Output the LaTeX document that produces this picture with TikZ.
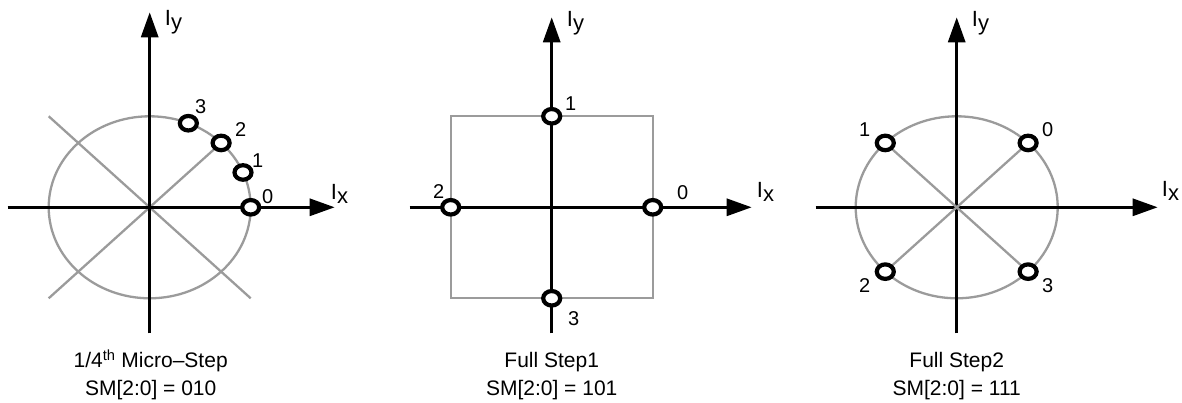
\documentclass[tikz,border=0pt]{standalone}
\usepackage{fontspec}
\setmainfont{Liberation Sans}
\usetikzlibrary{arrows.meta,shapes.geometric}
\definecolor{ink}{HTML}{000000}
\definecolor{guide}{HTML}{9B9B9B}
\tikzset{
  >={Triangle[length=25pt,width=17pt]},
  ax/.style={->,draw=ink,line width=3pt},
  gd/.style={draw=guide,line width=2.3pt},
  mk/.style={ellipse,draw=ink,fill=white,line width=4.2pt,minimum width=17pt,minimum height=14.5pt,inner sep=0pt},
  num/.style={font=\fontsize{20}{22}\selectfont,inner sep=0pt},
  axl/.style={font=\fontsize{22}{24}\selectfont,inner sep=0pt,anchor=base west},
  capt/.style={font=\fontsize{21}{27}\selectfont,inner sep=0pt,anchor=base},
}

\begin{document}
\begin{tikzpicture}[x=1pt,y=1pt]
  \useasboundingbox (0,0) rectangle (1182,403);
  % 1/4 micro-step
  \begin{scope}[shift={(149.7,195.7)}]
    \coordinate (oa) at (0,0);
    \coordinate (xla) at (-142,0); \coordinate (xra) at (185,0);
    \coordinate (yba) at (0,-126); \coordinate (yta) at (0,195);
    \coordinate (nwa) at (-101,91); \coordinate (swa) at (-101,-91); \coordinate (sea) at (101,-91);
    \coordinate (pa0) at (0:101 and 91); \coordinate (pa1) at (22.5:101 and 91);
    \coordinate (pa2) at (45:101 and 91); \coordinate (pa3) at (67.5:101 and 91);
    \draw[gd] (oa) ellipse [x radius=101,y radius=91];
    \draw[gd] (nwa) -- (sea);
    \draw[gd] (swa) -- (pa2);
    \draw[ax] (xla) -- (xra);
    \draw[ax] (yba) -- (yta);
    \node[mk] (ma0) at (pa0) {}; \node[mk] (ma1) at (pa1) {};
    \node[mk] (ma2) at (pa2) {}; \node[mk] (ma3) at (pa3) {};
    \node[num] (na0) at (118,11) {0}; \node[num] (na1) at (108,47) {1};
    \node[num] (na2) at (91,78) {2};  \node[num] (na3) at (51,101) {3};
    \node[axl] (ixa) at (181,8) {I\raisebox{-0.18em}{x}};
    \node[axl] (iya) at (15,182) {I\raisebox{-0.18em}{y}};
    \node[capt] (capa) at (1,-160.7) {1/4\textsuperscript{th} Micro--Step};
    \node[capt] (sma) at (1,-188.7) {SM[2:0] = 010};
  \end{scope}
  % full step 1
  \begin{scope}[shift={(551.7,195.7)}]
    \coordinate (ob) at (0,0);
    \coordinate (xlb) at (-142,0); \coordinate (xrb) at (200,0);
    \coordinate (ybb) at (0,-126); \coordinate (ytb) at (0,190);
    \coordinate (swb) at (-101,-91); \coordinate (neb) at (101,91);
    \draw[gd] (swb) rectangle (neb);
    \draw[ax] (xlb) -- (xrb);
    \draw[ax] (ybb) -- (ytb);
    \node[mk] (mb0) at (101,0) {}; \node[mk] (mb1) at (0,91) {};
    \node[mk] (mb2) at (-101,0) {}; \node[mk] (mb3) at (0,-91) {};
    \node[num] (nb0) at (131,15) {0}; \node[num] (nb1) at (19,104) {1};
    \node[num] (nb2) at (-113,16) {2}; \node[num] (nb3) at (22,-111) {3};
    \node[axl] (ixb) at (205,10) {I\raisebox{-0.18em}{x}};
    \node[axl] (iyb) at (15,181) {I\raisebox{-0.18em}{y}};
    \node[capt] (capb) at (0,-160.7) {Full Step1};
    \node[capt] (smb) at (0,-188.7) {SM[2:0] = 101};
  \end{scope}
  % full step 2
  \begin{scope}[shift={(956.7,195.7)}]
    \coordinate (oc) at (0,0);
    \coordinate (xlc) at (-141,0); \coordinate (xrc) at (201,0);
    \coordinate (ybc) at (0,-126); \coordinate (ytc) at (0,190);
    \coordinate (pc0) at (45:101 and 91); \coordinate (pc1) at (135:101 and 91);
    \coordinate (pc2) at (225:101 and 91); \coordinate (pc3) at (315:101 and 91);
    \draw[gd] (oc) ellipse [x radius=101,y radius=91];
    \draw[ax] (xlc) -- (xrc);
    \draw[ax] (ybc) -- (ytc);
    \draw[gd] (oc) -- (pc0); \draw[gd] (oc) -- (pc1);
    \draw[gd] (oc) -- (pc2); \draw[gd] (oc) -- (pc3);
    \node[mk] (mc0) at (pc0) {}; \node[mk] (mc1) at (pc1) {};
    \node[mk] (mc2) at (pc2) {}; \node[mk] (mc3) at (pc3) {};
    \node[num] (nc0) at (91,78) {0}; \node[num] (nc1) at (-92,78) {1};
    \node[num] (nc2) at (-92,-78) {2}; \node[num] (nc3) at (91,-78) {3};
    \node[axl] (ixc) at (205,11) {I\raisebox{-0.18em}{x}};
    \node[axl] (iyc) at (15,181) {I\raisebox{-0.18em}{y}};
    \node[capt] (capc) at (0,-160.7) {Full Step2};
    \node[capt] (smc) at (0,-188.7) {SM[2:0] = 111};
  \end{scope}
\end{tikzpicture}
\end{document}
